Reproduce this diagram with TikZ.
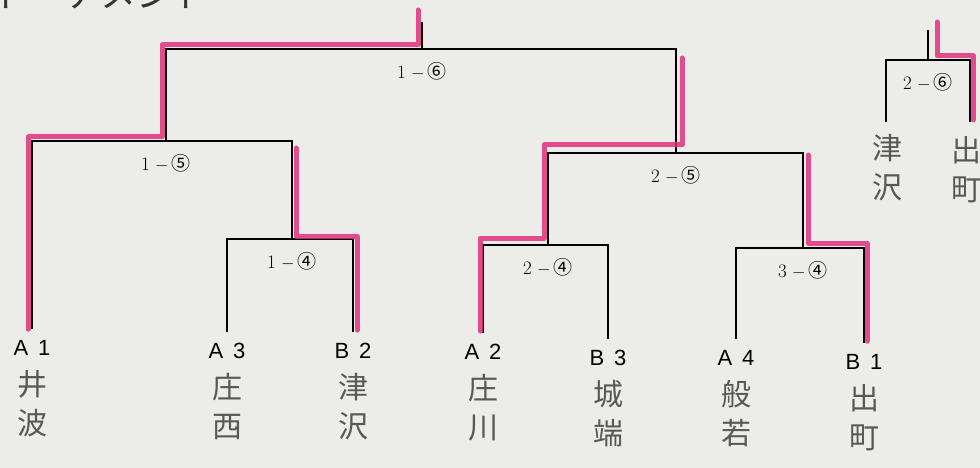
\documentclass[tikz,border=0pt]{standalone}
\usepackage{fontspec}
\setsansfont{Liberation Sans}
\newfontfamily\cjk{Noto Sans CJK JP}
\usetikzlibrary{positioning}
\definecolor{paper}{RGB}{236,237,233}
\definecolor{marker}{RGB}{226,48,124}
\definecolor{pencil}{RGB}{88,88,88}

\begin{document}
\begin{tikzpicture}[
  x=1pt, y=-1pt,
  team/.style={font=\sffamily\fontsize{22}{22}\selectfont, inner sep=0pt},
  kanji/.style={font=\cjk\fontsize{30}{39}\selectfont, text=pencil,
                align=center, inner sep=0pt},
  match/.style={font=\fontsize{19}{19}\selectfont, inner sep=0pt},
  line/.style={line width=1.8pt, black},
  win/.style={line width=5pt, marker, opacity=.85, line join=round, line cap=round},
  node distance=13pt
]
\useasboundingbox (0,0) rectangle (980,468);
\clip (0,0) rectangle (980,468);
\fill[paper] (0,0) rectangle (980,468);

% heading, cut off by the top edge
\node[font=\cjk\fontsize{36}{36}\selectfont, text=black!80, anchor=base west,
      inner sep=0pt] (title) at (-8,8) {トーナメント};

% teams
\foreach \n/\t/\u/\x/\y/\ca/\cb in {a1/A/1/32/348/井/波, a3/A/3/227/351/庄/西,
    b2/B/2/353/351/津/沢, a2/A/2/483/352/庄/川, b3/B/3/608/358/城/端,
    a4/A/4/736/358/般/若, b1/B/1/864/362/出/町}{
  \node[team] (\n) at (\x,\y) {\t\hspace{.45em}\u};
  \node[kanji, below=14pt of \n] (\n-name) {\ca\\\cb};
  \coordinate (\n-f) at ([yshift=11pt]\n.north);
}
\node[kanji] (tz) at (887,168) {津\\沢};
\node[kanji] (dm) at (966,170) {出\\町};
\coordinate (tz-f) at (886,122);
\coordinate (dm-f) at (970,122);

% matches
\coordinate (m14) at (292,239);
\coordinate (m24) at (548,245);
\coordinate (m34) at (803,248);
\coordinate (m15) at (166,141);
\coordinate (m25) at (676,153);
\coordinate (m16) at (422,49);
\coordinate (m26) at (928,60);
\coordinate (top1) at (422,22);
\coordinate (top2) at (928,30);

\foreach \l/\m/\r in {a3-f/m14/b2-f, a2-f/m24/b3-f, a4-f/m34/b1-f,
                      a1-f/m15/m14, m24/m25/m34, m15/m16/m25, tz-f/m26/dm-f}
  \draw[line] (\l) |- (\m) -| (\r);
\draw[line] (m16) -- (top1);
\draw[line] (m26) -- (top2);

\foreach \m/\r/\c in {m14/1/④, m24/2/④, m34/3/④, m15/1/⑤, m25/2/⑤,
                      m16/1/⑥, m26/2/⑥}
  \node[match, below=of \m] (\m-lbl) {\r\;$-$\,{\cjk\c}};

% winners in marker pen
\draw[win] ([xshift=-4pt]a1-f) |- ([shift={(-4,-4)}]m15)
  |- ([shift={(-4,-4)}]m16) -- ([shift={(-4,-12)}]top1);
\draw[win] ([shift={(4,-2)}]b2-f) |- ([shift={(4,-3)}]m14) -- ++(0,-88);
\draw[win] ([shift={(-3,-2)}]a2-f) |- ([shift={(-4,-7)}]m24)
  |- ([shift={(6,-8)}]m25) -- ++(0,-87);
\draw[win] ([shift={(3,-2)}]b1-f) |- ([shift={(5,-5)}]m34) -- ++(0,-88);
\draw[win] ([shift={(3,-2)}]dm-f) |- ([shift={(9,-4)}]m26) -- ++(0,-34);
\end{tikzpicture}
\end{document}
